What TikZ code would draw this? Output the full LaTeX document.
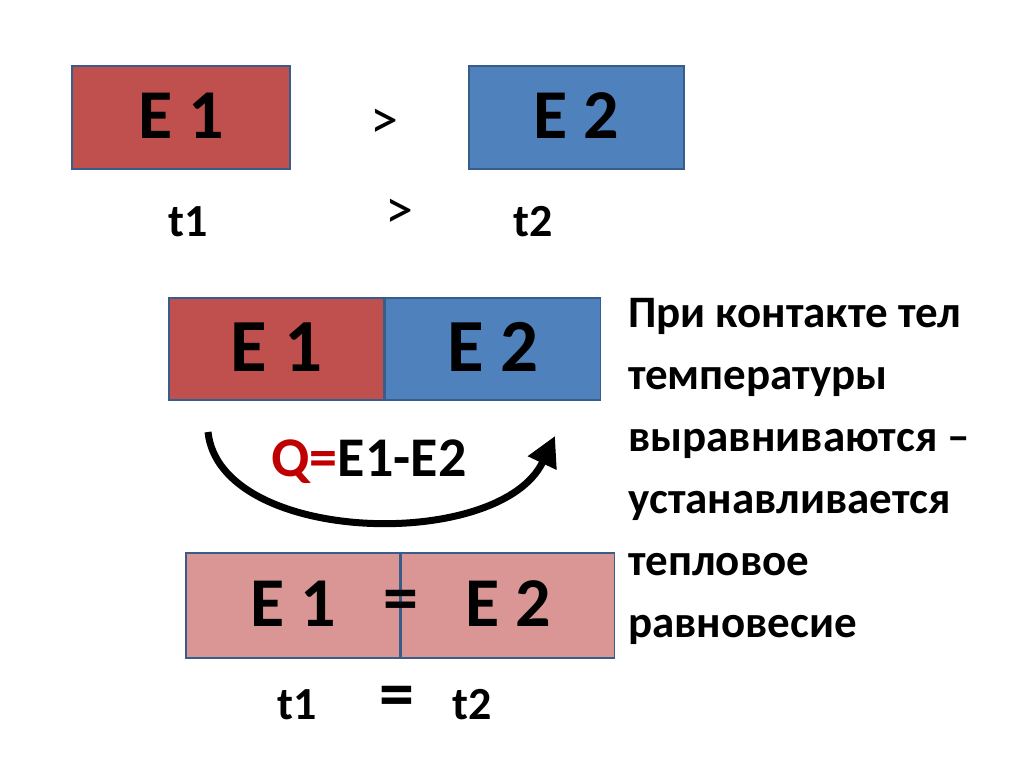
\documentclass[tikz,border=0pt]{standalone}
\usepackage{fontspec}
\setmainfont{Carlito}
\usetikzlibrary{arrows.meta,positioning,calc}
\definecolor{hotred}{HTML}{C0504D}
\definecolor{coldblue}{HTML}{4F81BD}
\definecolor{evenpink}{HTML}{D99694}
\definecolor{edgeblue}{HTML}{385D8A}
\definecolor{qred}{HTML}{C00000}
\newcommand{\bigE}{\fontsize{70}{72}\selectfont\bfseries}
\newcommand{\midE}{\fontsize{75}{77}\selectfont\bfseries}
\newcommand{\tlab}{\fontsize{46}{48}\selectfont\bfseries}
\newcommand{\relsign}{\fontsize{56}{58}\selectfont}

\begin{document}
\begin{tikzpicture}[
  x=1pt,y=-1pt,
  ebox/.style={draw=edgeblue,line width=1.6pt,inner sep=0pt,
               text depth=4pt},
  label/.style={inner sep=0pt,font=\tlab}
]
\useasboundingbox[fill=white] (0,0) rectangle (1024,767);
% two bodies apart
\node[ebox,fill=hotred,minimum width=218,minimum height=103,font=\bigE]
      (e1) at (181,117.5) {E 1};
\node[ebox,fill=coldblue,minimum width=215,minimum height=103,font=\bigE]
      (e2) at (576.5,117.5) {E 2};
\node[inner sep=0pt,font=\relsign] (gtE) at (384,124) {>};
\node[label] (t1) at (188,222) {t1};
\node[label] (t2) at (533,222) {t2};
\node[inner sep=0pt,font=\relsign] (gtT) at (399,214) {>};
% bodies in contact
\node[ebox,fill=hotred,minimum width=215,minimum height=102,font=\midE]
      (c1) at (276.5,349) {E 1};
\node[ebox,fill=coldblue,minimum width=215,minimum height=102,font=\midE,
      right=0pt of c1] (c2) {E 2};
\coordinate (qfrom) at (208,432);
\coordinate (qto) at (555,436);
\draw[line width=7pt,-{Triangle[length=30pt,width=30pt]}]
      (qfrom) .. controls (220,545) and (500,552) .. (qto);
\node[inner sep=0pt,font=\fontsize{56}{58}\selectfont\bfseries]
      (heat) at (369,462) {\textcolor{qred}{Q=}E1-E2};
% equilibrium
\node[ebox,fill=evenpink,minimum width=214,minimum height=105,font=\bigE]
      (q1) at (293,605.5) {E 1};
\node[ebox,fill=evenpink,minimum width=213,minimum height=105,font=\bigE,
      right=0pt of q1] (q2) {E 2};
\node[inner sep=0pt,font=\bigE] (eqE) at (q1.east) {=};
\node[label] (u1) at (297,705) {t1};
\node[label] (u2) at (472,705) {t2};
\node[inner sep=0pt,font=\bigE] (eqT) at (397,702) {=};
% explanation
\node[anchor=north west,align=left,inner sep=0pt,
      font=\fontsize{45}{62}\selectfont\bfseries] (note) at (628,298)
      {При контакте тел\\температуры\\выравниваются –\\устанавливается\\тепловое\\равновесие};
\end{tikzpicture}
\end{document}
